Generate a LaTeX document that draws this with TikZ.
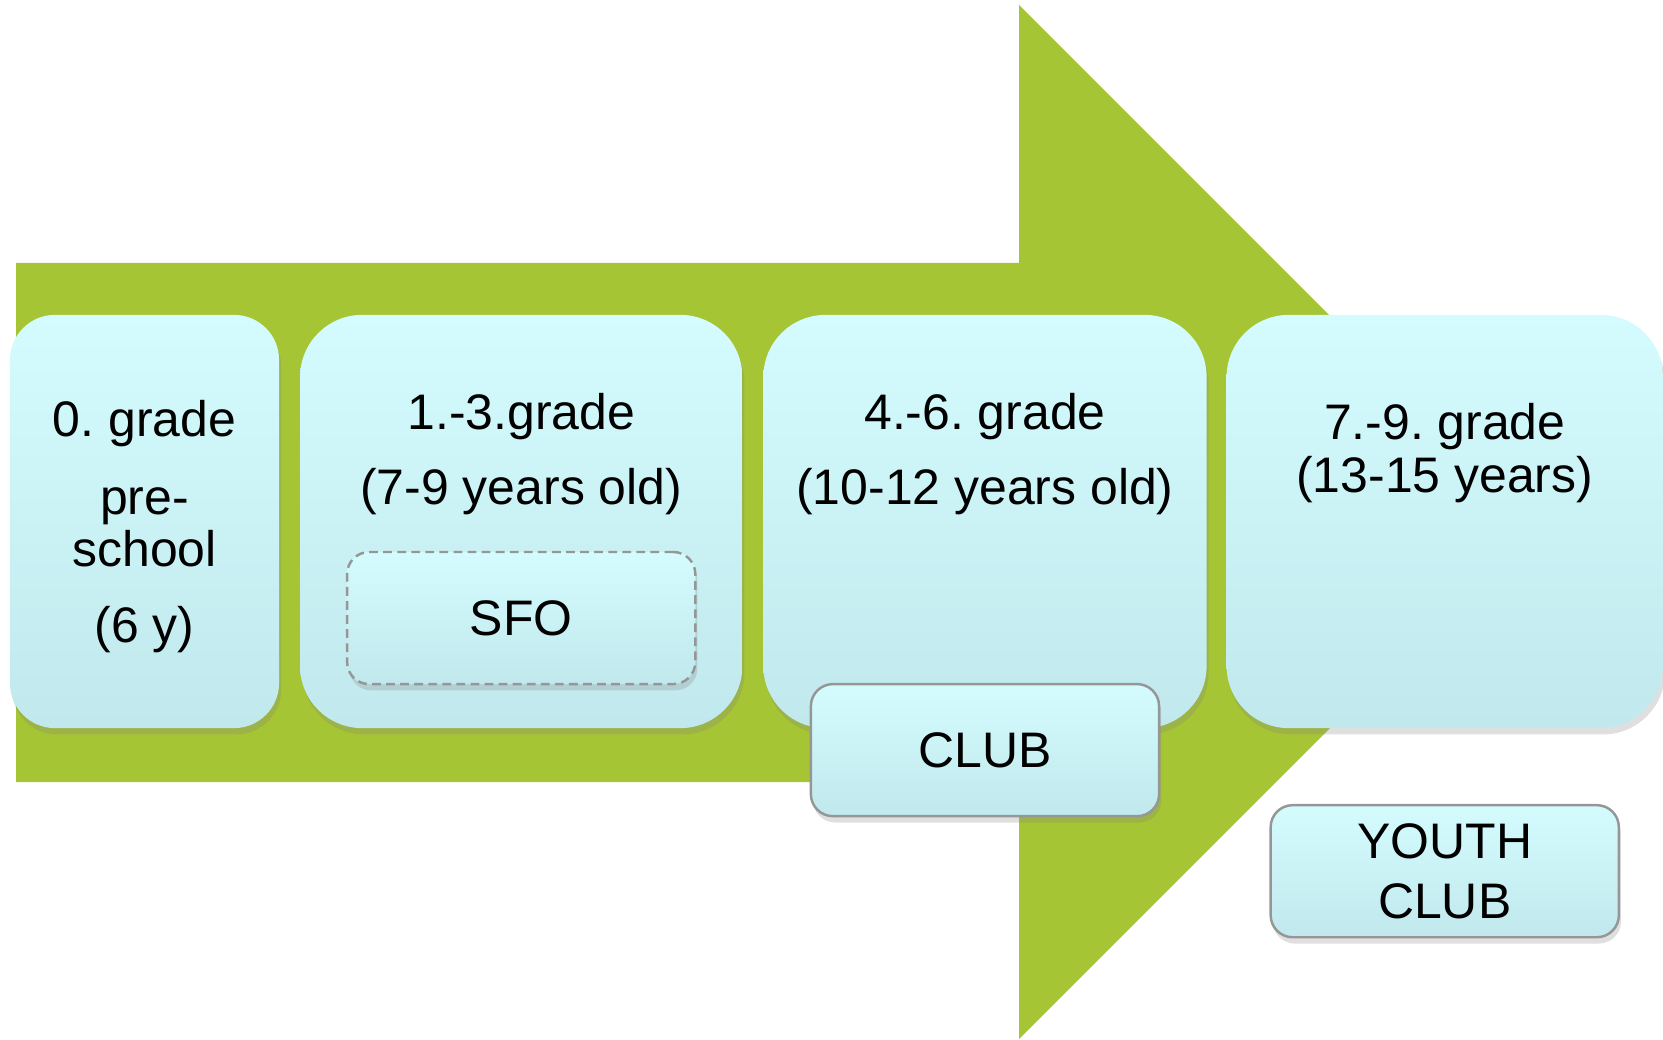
\documentclass[tikz,border=0pt]{standalone}
\usepackage{fontspec}
\setmainfont{Liberation Sans}
\frenchspacing
\usetikzlibrary{positioning,shadows}
\definecolor{arrowgreen}{RGB}{166,197,52}
\definecolor{boxtop}{RGB}{212,252,254}
\definecolor{boxbottom}{RGB}{193,233,237}
\definecolor{rimgray}{RGB}{150,150,150}
\tikzset{%
    gradebox/.style={%
        rectangle,
        top color=boxtop,
        bottom color=boxbottom,
        rounded corners=0.62cm,
        minimum height=4.13cm,
        inner sep=0pt,
        outer sep=0pt,
        align=center,
        drop shadow={shadow xshift=0.6pt,shadow yshift=-1.8pt,opacity=0.25}
    },
    clubbox/.style={%
        rectangle,
        top color=boxtop,
        bottom color=boxbottom,
        draw=rimgray,
        line width=0.7pt,
        rounded corners=0.22cm,
        minimum width=3.48cm,
        minimum height=1.32cm,
        inner sep=0pt,
        outer sep=0pt,
        align=center,
        drop shadow={shadow xshift=0.6pt,shadow yshift=-1.8pt,opacity=0.25}
    },
    caption/.style={%
        align=center,
        inner sep=0pt
    }
}

\begin{document}
\begin{tikzpicture}[x=0.01cm,y=-0.01cm,font=\fontsize{14.2pt}{14.9pt}\selectfont]
    \useasboundingbox (0,0) rectangle (1663,1040);
    % big arrow
    \fill[arrowgreen] (16,263) -- (1019,263) -- (1019,5) -- (1536,522)
        -- (1019,1039) -- (1019,782) -- (16,782) -- cycle;
    % grades
    \node[gradebox,minimum width=2.69cm,rounded corners=0.45cm] (preschool) at (144.5,521.5) {};
    \node[gradebox,minimum width=4.42cm,right=0.21cm of preschool] (lower) {};
    \node[gradebox,minimum width=4.43cm,right=0.21cm of lower] (middle) {};
    \node[gradebox,minimum width=4.36cm,right=0.2cm of middle] (upper) {};
    \node[caption] (preschooltext) at ([yshift=-0.05cm]preschool.center)
        {0. grade\\[7.1pt]pre-\\school\\[6.6pt](6 y)};
    \node[caption] (lowertext) at ([yshift=-1.395cm]lower.north) {1.-3.grade\\[6.5pt](7-9 years old)};
    \node[caption] (middletext) at ([yshift=-1.395cm]middle.north) {4.-6. grade\\[6.5pt](10-12 years old)};
    \node[caption] (uppertext) at ([yshift=-1.38cm]upper.north) {7.-9. grade\\[0.2pt](13-15 years)};
    % clubs
    \node[clubbox,dashed,dash pattern=on 2.5pt off 1.5pt,above=0.44cm of lower.south] (sfo) {SFO};
    \node[clubbox,below=-0.44cm of middle.south] (club) {CLUB};
    \node[clubbox,below=0.77cm of upper.south] (youth) {YOUTH\\[2pt]CLUB};
\end{tikzpicture}
\end{document}
